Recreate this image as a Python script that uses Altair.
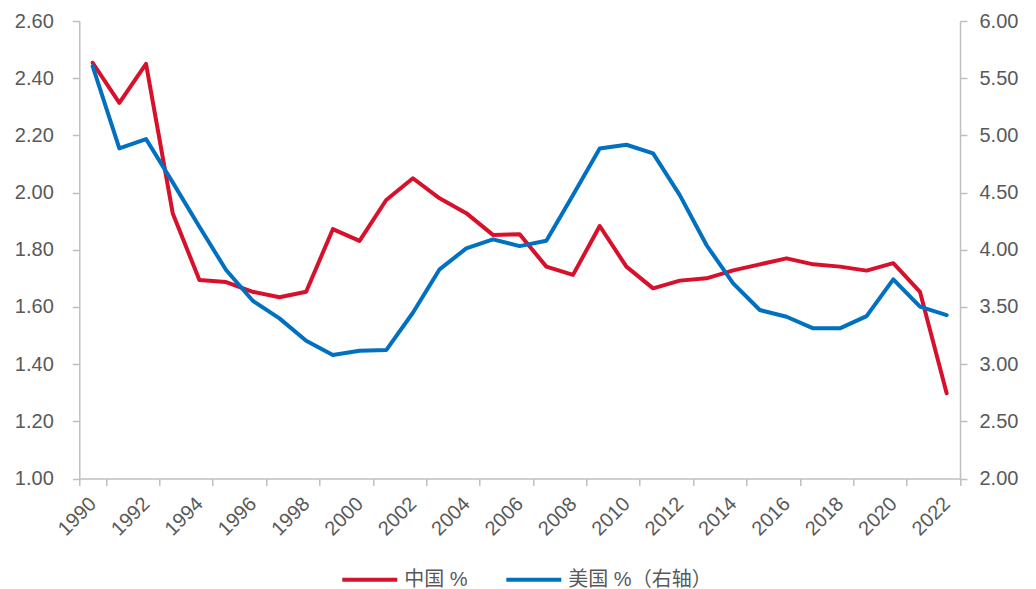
import altair as alt
import pandas as pd

years = list(range(1990, 2023))
china = [2.454, 2.314, 2.450, 1.928, 1.694, 1.687, 1.653, 1.634, 1.653, 1.872,
         1.831, 1.974, 2.050, 1.980, 1.928, 1.852, 1.854, 1.741, 1.712, 1.883,
         1.741, 1.665, 1.692, 1.700, 1.728, 1.749, 1.770, 1.749, 1.741, 1.727,
         1.753, 1.653, 1.298]
usa = [5.606, 4.886, 4.968, 4.589, 4.201, 3.823, 3.554, 3.400, 3.205, 3.080,
       3.117, 3.123, 3.449, 3.829, 4.012, 4.091, 4.032, 4.079, 4.478, 4.886,
       4.918, 4.843, 4.478, 4.041, 3.706, 3.473, 3.414, 3.313, 3.313, 3.420,
       3.741, 3.502, 3.429]
series_names = ["中国 %", "美国 %（右轴）"]
series_colors = ["#D7102B", "#0070C0"]
left_ticks = [1.0, 1.2, 1.4, 1.6, 1.8, 2.0, 2.2, 2.4, 2.6]
right_ticks = [2.0, 2.5, 3.0, 3.5, 4.0, 4.5, 5.0, 5.5, 6.0]
x_label_years = list(range(1990, 2023, 2))

df = pd.DataFrame({
    "year": years * 2,
    "value": china + usa,
    "series": [series_names[0]] * len(years) + [series_names[1]] * len(years),
})

FONT = "Liberation Sans, Noto Sans CJK SC"
GRAY = "#595959"
AXC = "#BFBFBF"

x_enc = alt.X(
    "year:O",
    bandPosition=0.5,
    scale=alt.Scale(type="band", paddingInner=0, paddingOuter=0),
    axis=alt.Axis(
        values=x_label_years, tickBand="extent", labelAngle=-45,
        labelAlign="right", labelBaseline="middle", labelPadding=15,
        tickSize=7, tickColor=AXC, tickWidth=1.5, domainColor=AXC,
        domainWidth=1.5, labelFont=FONT, labelFontSize=20, labelColor=GRAY,
        title=None, grid=False, labelOverlap=False,
    ),
)

color_enc = alt.Color(
    "series:N",
    scale=alt.Scale(domain=series_names, range=series_colors),
    legend=alt.Legend(
        title=None, orient="none", direction="horizontal",
        legendX=261, legendY=529, symbolType="stroke", symbolSize=3025,
        symbolStrokeWidth=4, labelFont=FONT, labelFontSize=20,
        labelColor=GRAY, labelOffset=5, columnPadding=30, padding=0,
    ),
)

china_line = alt.Chart(df).transform_filter(
    alt.datum.series == series_names[0]
).mark_line(strokeWidth=4, strokeJoin="round", strokeCap="round").encode(
    x=x_enc,
    y=alt.Y(
        "value:Q",
        scale=alt.Scale(domain=[1.0, 2.6], nice=False, zero=False),
        axis=alt.Axis(
            orient="left", values=left_ticks, format=".2f", title=None,
            grid=False, tickSize=7, tickColor=AXC, tickWidth=1.5,
            domainColor=AXC, domainWidth=1.5, labelPadding=19,
            labelFont=FONT, labelFontSize=20, labelColor=GRAY,
        ),
    ),
    color=color_enc,
)

usa_line = alt.Chart(df).transform_filter(
    alt.datum.series == series_names[1]
).mark_line(strokeWidth=4, strokeJoin="round", strokeCap="round").encode(
    x=x_enc,
    y=alt.Y(
        "value:Q",
        scale=alt.Scale(domain=[2.0, 6.0], nice=False, zero=False),
        axis=alt.Axis(
            orient="right", values=right_ticks, format=".2f", title=None,
            grid=False, tickSize=7, tickColor=AXC, tickWidth=1.5,
            domainColor=AXC, domainWidth=1.5, labelPadding=12,
            labelFont=FONT, labelFontSize=20, labelColor=GRAY,
        ),
    ),
    color=color_enc,
)

chart = alt.layer(china_line, usa_line).resolve_scale(
    y="independent"
).properties(
    width=880.7,
    height=457.5,
    padding={"left": 71.3, "top": 13, "right": 60, "bottom": 110.5},
    autosize=alt.AutoSizeParams(type="none"),
).configure_view(stroke=None)

chart.save("out.html", embed_options={"renderer": "svg", "actions": False})
